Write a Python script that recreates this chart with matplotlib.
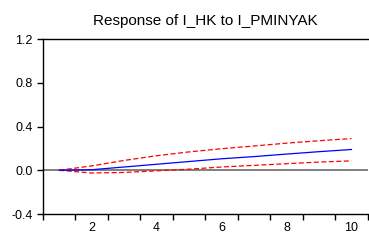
import numpy as np
import matplotlib
matplotlib.use("Agg")
import matplotlib.pyplot as plt

plt.rcParams['font.family'] = ['Liberation Sans', 'DejaVu Sans']

# Impulse response values, periods 1..10
periods = np.arange(1, 11)
response = [0.0, 0.005, 0.03, 0.055, 0.08, 0.105, 0.125, 0.148, 0.17, 0.19]
upper = [0.0, 0.04, 0.09, 0.133, 0.168, 0.197, 0.222, 0.248, 0.27, 0.29]
lower = [0.0, -0.025, -0.02, -0.005, 0.01, 0.03, 0.045, 0.06, 0.075, 0.086]

yticks = [-0.4, 0.0, 0.4, 0.8, 1.2]
xlabels = [2, 4, 6, 8, 10]

fig = plt.figure(figsize=(3.69, 2.41), dpi=100)
ax = fig.add_axes([0.1165, 0.112, 0.88, 0.726])

ax.axhline(0, color='#808080', lw=1.4, zorder=1)
ax.plot(periods, upper, color='red', lw=0.9, ls=(0, (4, 2)))
ax.plot(periods, lower, color='red', lw=0.9, ls=(0, (4, 2)))
ax.plot(periods, response, color='blue', lw=0.9)

ax.set_xlim(0.5, 10.5)
ax.set_ylim(-0.4, 1.2)
ax.set_yticks(yticks)
ax.set_yticklabels([f"{v:.1f}" for v in yticks])
ax.set_xticks(xlabels)
ax.set_xticklabels([str(v) for v in xlabels])
ax.set_xticks(np.arange(0.5, 11, 1), minor=True)
ax.tick_params(axis='x', which='major', length=0, pad=6)
ax.tick_params(axis='x', which='minor', length=4, width=1)
ax.tick_params(axis='y', length=4, width=1)
ax.tick_params(labelsize=9)

ax.spines['right'].set_visible(False)
for s in ['left', 'bottom', 'top']:
    ax.spines[s].set_linewidth(1)

ax.set_title('Response of I_HK to I_PMINYAK', fontsize=11, pad=10)

fig.savefig('out.png', dpi=100)
